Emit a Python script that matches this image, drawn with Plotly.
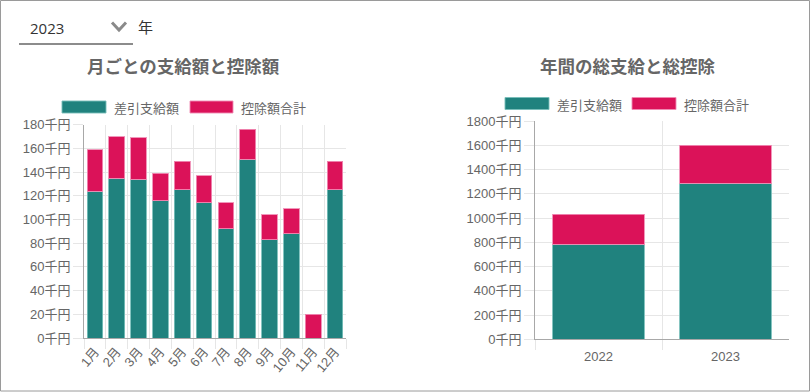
import plotly.graph_objects as go

# ---------------- data ----------------
months = ["1月", "2月", "3月", "4月", "5月", "6月", "7月", "8月", "9月", "10月", "11月", "12月"]
net_pay_monthly = [124, 135, 134, 116, 125, 114, 92, 151, 83, 88, 0, 125]        # 差引支給額 (千円)
deduction_monthly = [35, 35, 35, 23, 24, 23, 22, 25, 21, 21, 20, 24]             # 控除額合計 (千円)

years = ["2022", "2023"]
net_pay_yearly = [783, 1287]
deduction_yearly = [247, 315]

series_names = ["差引支給額", "控除額合計"]
title_monthly = "月ごとの支給額と控除額"
title_yearly = "年間の総支給と総控除"
selected_year = "2023"
year_label = "年"

# ---------------- style ----------------
W, H = 810, 392
TEAL = "#20827e"
RED = "#db1259"
TEAL_LINE = "rgba(120,190,185,0.9)"
RED_LINE = "rgba(240,140,180,0.9)"
GRID = "#e6e6e6"
AXIS = "#a8a8a8"
TXT = "#666666"
FONT = "Liberation Sans, Arial, Noto Sans CJK JP, sans-serif"


def px(x):
    return x / W


def py(y):
    return 1 - y / H


fig = go.Figure()

# monthly
fig.add_trace(go.Bar(x=months, y=net_pay_monthly, name=series_names[0], marker=dict(color=TEAL, line=dict(color=TEAL_LINE, width=1)),
                     xaxis="x", yaxis="y", showlegend=False, hoverinfo="skip"))
fig.add_trace(go.Bar(x=months, y=deduction_monthly, name=series_names[1], marker=dict(color=RED, line=dict(color=RED_LINE, width=1)),
                     xaxis="x", yaxis="y", showlegend=False, hoverinfo="skip"))
# yearly
fig.add_trace(go.Bar(x=years, y=net_pay_yearly, name=series_names[0], marker=dict(color=TEAL, line=dict(color=TEAL_LINE, width=1)),
                     xaxis="x2", yaxis="y2", showlegend=False, hoverinfo="skip"))
fig.add_trace(go.Bar(x=years, y=deduction_yearly, name=series_names[1], marker=dict(color=RED, line=dict(color=RED_LINE, width=1)),
                     xaxis="x2", yaxis="y2", showlegend=False, hoverinfo="skip"))

common_x = dict(type="category", tickson="boundaries", showgrid=True, gridcolor=GRID, gridwidth=1,
                ticks="outside", ticklen=10, tickcolor=GRID, showline=True, linecolor=AXIS, linewidth=1,
                tickfont=dict(size=13, color=TXT, family=FONT), zeroline=False, fixedrange=True, automargin=False)
common_y = dict(showgrid=True, gridcolor=GRID, gridwidth=1, ticks="outside", ticklen=10, tickcolor=GRID,
                showline=True, linecolor=AXIS, linewidth=1, zeroline=True, zerolinecolor=AXIS, zerolinewidth=1,
                ticksuffix="千円", tickfont=dict(size=13, color=TXT, family=FONT), fixedrange=True, automargin=False)

fig.update_layout(
    width=W, height=H, autosize=False,
    margin=dict(l=0, r=0, t=0, b=0, pad=0),
    paper_bgcolor="white", plot_bgcolor="white",
    barmode="stack", bargap=0.28,
    font=dict(family=FONT, color=TXT),
    xaxis=dict(common_x, domain=[px(84), px(346)], anchor="y", tickangle=-50),
    yaxis=dict(common_y, domain=[py(338), py(124.7)], anchor="x", range=[0, 180], dtick=20),
    xaxis2=dict(common_x, domain=[px(535), px(789)], anchor="y2", tickangle=0, ticklabelstandoff=5),
    yaxis2=dict(common_y, domain=[py(339.3), py(121)], anchor="x2", range=[0, 1800], dtick=200),
)

shapes = []
annotations = []

# outer border
shapes.append(dict(type="rect", xref="paper", yref="paper", x0=px(0.5), x1=px(809.5), y0=py(391), y1=py(0.5),
                   line=dict(color="#9a9a9a", width=1), fillcolor="rgba(0,0,0,0)", layer="above"))

# dropdown
annotations.append(dict(text=selected_year, x=px(28), y=py(27.5), xref="paper", yref="paper", xanchor="left", yanchor="middle",
                        showarrow=False, font=dict(size=15, color="#333333", family="Open Sans, Noto Sans, sans-serif")))
shapes.append(dict(type="path", xref="paper", yref="paper",
                   path=f"M {px(112)},{py(22.5)} L {px(119)},{py(30)} L {px(126)},{py(22.5)}",
                   line=dict(color="#8a8a8a", width=3)))
shapes.append(dict(type="line", xref="paper", yref="paper", x0=px(19), x1=px(133), y0=py(44), y1=py(44),
                   line=dict(color="#8c8c8c", width=2)))
annotations.append(dict(text=year_label, x=px(136), y=py(27), xref="paper", yref="paper", xanchor="left", yanchor="middle",
                        showarrow=False, font=dict(size=15, color="#333333", family="Noto Sans CJK JP")))

# titles
annotations.append(dict(text=f"<b>{title_monthly}</b>", x=px(183.5), y=py(65.5), xref="paper", yref="paper",
                        xanchor="center", yanchor="middle", showarrow=False,
                        font=dict(size=17.5, color=TXT, family="Noto Sans CJK JP")))
annotations.append(dict(text=f"<b>{title_yearly}</b>", x=px(627.5), y=py(65), xref="paper", yref="paper",
                        xanchor="center", yanchor="middle", showarrow=False,
                        font=dict(size=17.5, color=TXT, family="Noto Sans CJK JP")))


# legends
def legend(items, ytop):
    for (x0, x1, tx), name, col, lc in items:
        shapes.append(dict(type="rect", xref="paper", yref="paper", x0=px(x0), x1=px(x1), y0=py(ytop + 12), y1=py(ytop),
                           fillcolor=col, line=dict(color=lc, width=1)))
        annotations.append(dict(text=name, x=px(tx), y=py(ytop + 6.5), xref="paper", yref="paper", xanchor="left",
                                yanchor="middle", showarrow=False, font=dict(size=13, color=TXT, family="Noto Sans CJK JP")))


legend([((62, 106, 112), series_names[0], TEAL, TEAL_LINE), ((190, 233, 239), series_names[1], RED, RED_LINE)], 101)
legend([((505, 549, 555), series_names[0], TEAL, TEAL_LINE), ((632, 676, 682), series_names[1], RED, RED_LINE)], 97.5)

fig.update_layout(shapes=shapes, annotations=annotations)

fig.write_html("out.html", config={"displayModeBar": False, "responsive": False},
               post_script="document.body.style.margin='0';document.body.style.overflow='hidden';")
